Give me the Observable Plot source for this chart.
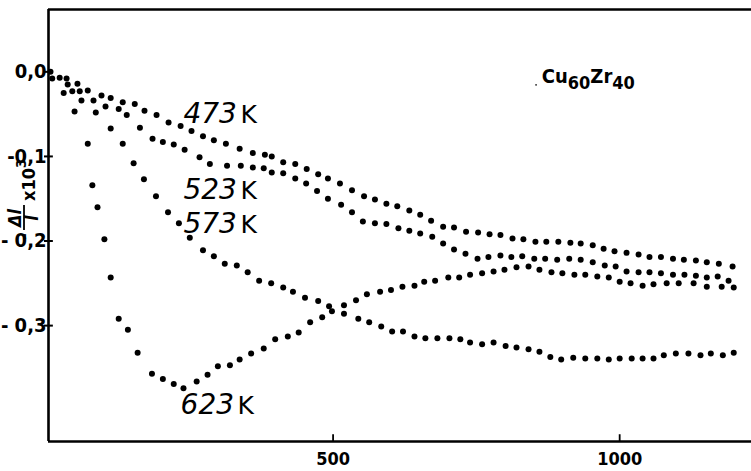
<!DOCTYPE html>
<html>
<head>
<meta charset="utf-8">
<script src="https://cdn.jsdelivr.net/npm/d3@7"></script>
<script src="https://cdn.jsdelivr.net/npm/@observablehq/plot@0.6"></script>
<style>
  html, body { margin: 0; padding: 0; background: #fff; }
  #chart { width: 751px; height: 471px; }
  svg { display: block; }
</style>
</head>
<body>
<div id="chart"></div>
<script>
// ---- data: time (min) vs -ΔL/L ×10^3 ----
const t473 = [7,23,35,54,72,96,112,133,154,171,192,213,234,253,273,292,313,337,360,381,393,413,434,454,474,491,512,533,554,573,593,612,633,652,671,692,711,732,753,773,792,813,832,853,872,893,914,932,953,972,991,1012,1033,1052,1072,1093,1112,1133,1152,1173,1197];
const v473 = [0,-0.007,-0.008,-0.014,-0.022,-0.028,-0.031,-0.036,-0.038,-0.046,-0.051,-0.060,-0.064,-0.070,-0.076,-0.081,-0.085,-0.091,-0.096,-0.098,-0.100,-0.107,-0.109,-0.115,-0.121,-0.126,-0.132,-0.140,-0.147,-0.151,-0.156,-0.159,-0.164,-0.169,-0.176,-0.183,-0.184,-0.189,-0.190,-0.192,-0.193,-0.197,-0.198,-0.201,-0.201,-0.201,-0.202,-0.203,-0.205,-0.209,-0.212,-0.214,-0.216,-0.219,-0.219,-0.221,-0.222,-0.223,-0.225,-0.227,-0.230];

const t523 = [10,37,58,82,103,126,140,163,185,203,222,241,267,285,315,339,360,379,393,413,434,453,472,491,514,533,552,573,593,614,633,652,673,692,711,731,752,771,792,811,830,851,870,891,912,932,953,974,993,1012,1033,1052,1072,1093,1113,1133,1152,1171,1190];
const v523 = [-0.008,-0.015,-0.023,-0.034,-0.041,-0.044,-0.051,-0.066,-0.079,-0.083,-0.086,-0.092,-0.101,-0.109,-0.111,-0.111,-0.113,-0.114,-0.119,-0.120,-0.126,-0.132,-0.141,-0.150,-0.157,-0.166,-0.177,-0.179,-0.180,-0.185,-0.188,-0.191,-0.195,-0.203,-0.210,-0.215,-0.221,-0.219,-0.217,-0.219,-0.218,-0.221,-0.221,-0.222,-0.221,-0.222,-0.225,-0.229,-0.230,-0.236,-0.237,-0.237,-0.238,-0.240,-0.240,-0.241,-0.243,-0.242,-0.247];

const t573 = [45,61,86,112,133,152,170,191,212,231,250,273,292,311,332,351,371,392,413,430,451,474,493,519,544,563,584,603,622,642,661,682,703,722,739,760,780,801,820,841,860,879,898,919,940,961,981,1000,1021,1040,1059,1077,1098,1120,1141,1159,1180,1199];
const v573 = [-0.023,-0.034,-0.048,-0.067,-0.085,-0.108,-0.127,-0.147,-0.166,-0.179,-0.196,-0.211,-0.218,-0.227,-0.229,-0.237,-0.247,-0.250,-0.255,-0.260,-0.267,-0.271,-0.277,-0.286,-0.292,-0.296,-0.301,-0.307,-0.307,-0.313,-0.315,-0.315,-0.315,-0.316,-0.320,-0.322,-0.320,-0.324,-0.326,-0.328,-0.331,-0.337,-0.340,-0.338,-0.339,-0.339,-0.340,-0.339,-0.339,-0.339,-0.339,-0.335,-0.333,-0.333,-0.335,-0.333,-0.335,-0.332];

const t623 = [30,49,72,80,89,101,112,126,142,159,184,203,222,239,262,281,299,320,337,357,379,399,421,440,460,481,498,519,540,559,582,601,621,642,659,678,701,720,739,760,780,799,820,841,860,881,900,921,940,961,981,1000,1019,1040,1059,1082,1103,1129,1152,1178,1199];
const v623 = [-0.025,-0.047,-0.085,-0.134,-0.160,-0.198,-0.243,-0.292,-0.305,-0.332,-0.357,-0.363,-0.369,-0.374,-0.366,-0.358,-0.348,-0.347,-0.340,-0.333,-0.327,-0.316,-0.313,-0.308,-0.296,-0.290,-0.283,-0.276,-0.270,-0.263,-0.260,-0.258,-0.254,-0.253,-0.248,-0.247,-0.243,-0.243,-0.240,-0.238,-0.236,-0.234,-0.231,-0.230,-0.234,-0.237,-0.238,-0.240,-0.240,-0.242,-0.243,-0.248,-0.250,-0.253,-0.251,-0.250,-0.250,-0.250,-0.254,-0.254,-0.255];

const seriesNames = ["473", "523", "573", "623"];
// label anchor positions (data units) for the temperature labels
const labelT = [239, 239, 239, 234];
const labelV = [-0.061, -0.150, -0.190, -0.404];

const xTicks = [500, 1000];
const xTickLabels = ["500", "1000"];
const yTicks = [0, -0.1, -0.2, -0.3];
const yTickLabels = ["0,0", "-0,1", "- 0,2", "- 0,3"];

const xDomain = [3.5, 1230];
const yDomain = [-0.437, 0.0737];

// ---- build tables ----
const allT = [t473, t523, t573, t623];
const allV = [v473, v523, v573, v623];
const points = seriesNames.flatMap((s, k) => allT[k].map((t, i) => ({series: s, t, v: allV[k][i]})));
const labels = seriesNames.map((s, k) => ({name: s, t: labelT[k], v: labelV[k]}));

const font = "'DejaVu Sans', sans-serif";
const condensed = "'DejaVu Sans Condensed', 'Liberation Sans Narrow', 'DejaVu Sans', sans-serif";

const svg = Plot.plot({
  width: 751,
  height: 471,
  marginLeft: 48,
  marginRight: 0,
  marginTop: 9,
  marginBottom: 30,
  style: {background: "#fff", fontFamily: font},
  x: {domain: xDomain, axis: null},
  y: {domain: yDomain, axis: null},
  marks: [
    // frame: left, top, bottom
    Plot.ruleX([xDomain[0]], {stroke: "#000", strokeWidth: 2.6}),
    Plot.ruleY([yDomain[0]], {x1: xDomain[0], x2: xDomain[1], stroke: "#000", strokeWidth: 2.6}),
    Plot.ruleY([yDomain[1]], {x1: xDomain[0], x2: xDomain[1], stroke: "#000", strokeWidth: 2.6}),
    // y ticks crossing the axis
    Plot.ruleY(yTicks, {x1: -3.5, x2: 12, stroke: "#000", strokeWidth: 2}),
    Plot.text(yTicks, {x: xDomain[0], y: d => d, text: (d, i) => yTickLabels[i], textAnchor: "end", dx: -2, dy: 0,
      fontSize: 20, fontWeight: "bold", fontFamily: condensed, fill: "#000"}),
    // x ticks pointing up
    Plot.ruleX(xTicks, {y1: yDomain[0], y2: yDomain[0] + 0.008, stroke: "#000", strokeWidth: 1.8}),
    Plot.text(xTicks, {x: d => d, y: yDomain[0], text: (d, i) => xTickLabels[i], dy: 18,
      fontSize: 18, fontWeight: "bold", fontFamily: condensed, fill: "#000"}),
    // data dots
    Plot.dot(points, {x: "t", y: "v", r: 3, fill: "#000", stroke: "none"}),
    // temperature labels: italic numbers + upright K
    Plot.text(labels, {x: "t", y: "v", text: "name", textAnchor: "start", lineAnchor: "bottom",
      fontSize: 28, fontStyle: "italic", fontFamily: font, fill: "#000"}),
    Plot.text(labels, {x: "t", y: "v", text: d => "K", textAnchor: "start", lineAnchor: "bottom", dx: 57,
      fontSize: 25, fontFamily: font, fill: "#000"})
  ]
});

// composition label Cu60Zr40, placed through the scales
const xs = svg.scale("x"), ys = svg.scale("y");
const sel = d3.select(svg);
sel.append("circle").attr("cx", xs.apply(855)).attr("cy", ys.apply(-0.016)).attr("r", 0.8).attr("fill", "#000");
const comp = sel.append("text")
  .attr("x", xs.apply(865)).attr("y", ys.apply(-0.014)).attr("text-anchor", "start")
  .attr("font-family", condensed).attr("font-weight", "bold").attr("font-size", 20).attr("fill", "#000");
comp.append("tspan").text("Cu");
comp.append("tspan").attr("dy", 6).attr("font-size", 18).text("60");
comp.append("tspan").attr("dy", -6).text("Zr");
comp.append("tspan").attr("dy", 6).attr("font-size", 18).text("40");

// y-axis title: - Δl / l × 10^3 (rotated)
const g = sel.append("g").attr("transform", "translate(24,240) rotate(-90)")
  .attr("font-family", condensed).attr("font-weight", "bold").attr("fill", "#000").attr("text-anchor", "start");
g.append("text").attr("x", 0).attr("y", 6).attr("font-size", 18).text("-");
g.append("text").attr("x", 22).attr("y", -3).attr("text-anchor", "middle").attr("font-size", 18).attr("font-style", "italic").text("Δl");
g.append("line").attr("x1", 10).attr("x2", 35).attr("y1", 0).attr("y2", 0).attr("stroke", "#000").attr("stroke-width", 1.8);
g.append("text").attr("x", 22).attr("y", 14).attr("text-anchor", "middle").attr("font-size", 17).attr("font-style", "italic").text("l");
const x10 = g.append("text").attr("x", 39).attr("y", 11).attr("font-size", 18);
x10.append("tspan").text("x10");
x10.append("tspan").attr("dy", -9).attr("font-size", 14).text("3");

document.getElementById("chart").appendChild(svg);
</script>
</body>
</html>
